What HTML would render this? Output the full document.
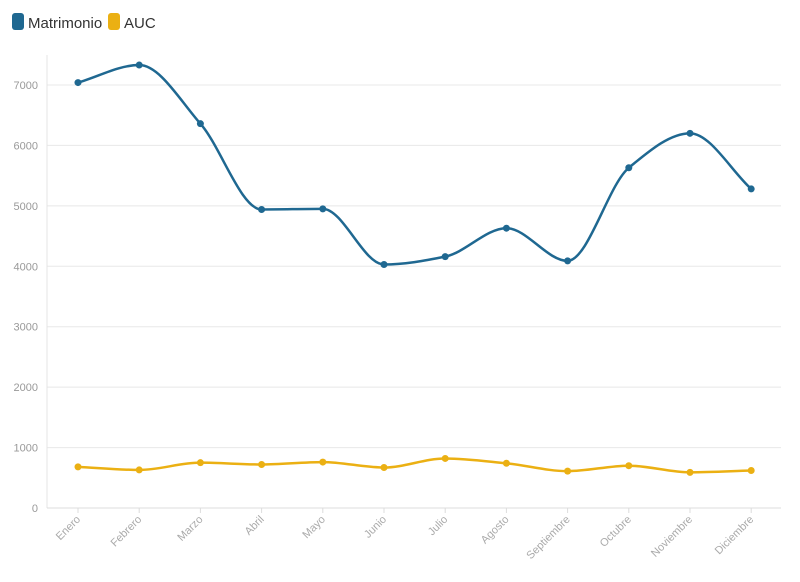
<!DOCTYPE html>
<html><head><meta charset="utf-8"><style>
html,body{margin:0;padding:0;background:#fff;}
body{width:800px;height:577px;overflow:hidden;font-family:"Liberation Sans",sans-serif;}
</style></head><body>
<svg id="c" width="800" height="577" xmlns="http://www.w3.org/2000/svg" font-family="Liberation Sans, sans-serif">
<rect x="12" y="13" width="12" height="17" rx="3" fill="#1f6891"/>
<text x="28" y="28" font-size="15" fill="#333">Matrimonio</text>
<rect x="108" y="13" width="12" height="17" rx="3" fill="#ebb013"/>
<text x="124" y="28" font-size="15" fill="#333">AUC</text>
<g id="g"></g>
</svg>
<script>
var g=document.getElementById('g');var ns='http://www.w3.org/2000/svg';
function el(t,a,txt){var e=document.createElementNS(ns,t);for(var k in a)e.setAttribute(k,a[k]);if(txt!=null)e.textContent=txt;g.appendChild(e);return e;}
var y0=508,s=60.43/1000;function Y(v){return y0-v*s;}
var L=47,R=781;
for(var i=1;i<=7;i++){el('line',{x1:L,x2:R,y1:Y(i*1000),y2:Y(i*1000),stroke:'#e8e8e8','stroke-width':1});}
for(var i=0;i<=7;i++){el('text',{x:38,y:Y(i*1000)+4,'font-size':11,fill:'#999','text-anchor':'end'},String(i*1000));}
el('line',{x1:L,x2:L,y1:55,y2:508,stroke:'#e4e4e4'});
el('line',{x1:L,x2:R,y1:508,y2:508,stroke:'#dcdcdc'});
var m=['Enero','Febrero','Marzo','Abril','Mayo','Junio','Julio','Agosto','Septiembre','Octubre','Noviembre','Diciembre'];
var xs=[];for(var i=0;i<12;i++)xs.push(78+i*61.2);
for(var i=0;i<12;i++){el('line',{x1:xs[i],x2:xs[i],y1:508,y2:513,stroke:'#dcdcdc'});
el('text',{x:xs[i]+3,y:520,'font-size':11,fill:'#aaa','text-anchor':'end',transform:'rotate(-45 '+(xs[i]+3)+' 520)'},m[i]);}
function path(vals,col){var p=vals.map(function(v,i){return [xs[i],Y(v)];});
var d='M'+p[0][0]+','+p[0][1];
// monotone-x cubic
var n=p.length,dx=[],sl=[],t=[];
for(var i=0;i<n-1;i++){dx[i]=p[i+1][0]-p[i][0];sl[i]=(p[i+1][1]-p[i][1])/dx[i];}
t[0]=sl[0];t[n-1]=sl[n-2];
for(var i=1;i<n-1;i++){if(sl[i-1]*sl[i]<=0)t[i]=0;else t[i]=3*(dx[i-1]+dx[i])/((2*dx[i]+dx[i-1])/sl[i-1]+(dx[i]+2*dx[i-1])/sl[i]);}
for(var i=0;i<n-1;i++){var h=dx[i]/3;d+=' C'+(p[i][0]+h)+','+(p[i][1]+h*t[i])+' '+(p[i+1][0]-h)+','+(p[i+1][1]-h*t[i+1])+' '+p[i+1][0]+','+p[i+1][1];}
el('path',{d:d,fill:'none',stroke:col,'stroke-width':2.5});
p.forEach(function(q){el('circle',{cx:q[0],cy:q[1],r:3.5,fill:col});});}
path([7040,7330,6360,4940,4950,4030,4160,4630,4090,5630,6200,5280],'#1f6891');
path([680,630,750,720,760,670,820,740,610,700,590,620],'#ebb013');
</script>
</body></html>
